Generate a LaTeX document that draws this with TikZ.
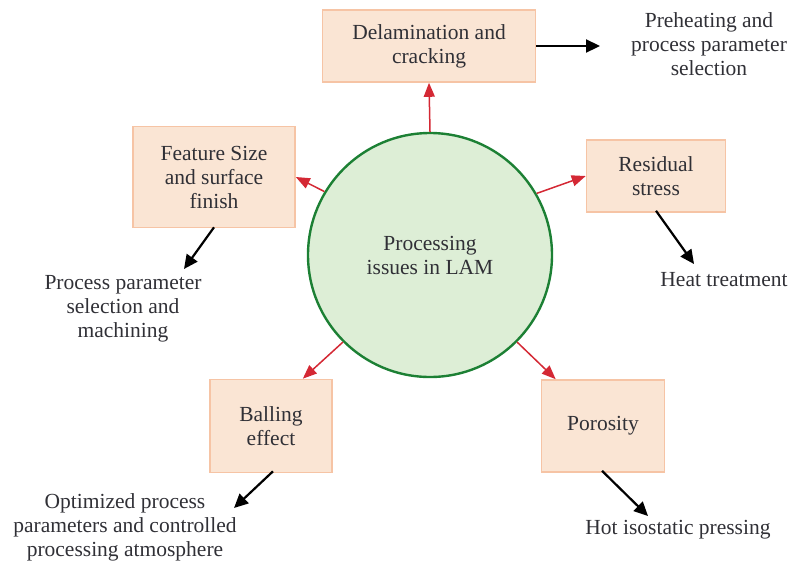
\documentclass[tikz,border=0pt]{standalone}
\usepackage{fontspec}
\setmainfont{Liberation Serif}
\usetikzlibrary{arrows.meta,calc}
\definecolor{boxfill}{RGB}{250,229,212}
\definecolor{boxline}{RGB}{246,196,165}
\definecolor{hubfill}{RGB}{221,238,214}
\definecolor{hubline}{RGB}{28,128,52}
\definecolor{issuered}{RGB}{212,40,52}
\definecolor{txt}{RGB}{48,48,54}
\begin{document}
\begin{tikzpicture}[x=1pt,y=-1pt,
  every node/.style={font=\fontsize{21.5}{24}\selectfont, text=txt, align=center},
  issue/.style={draw=boxline, line width=1.6pt, fill=boxfill, inner sep=0pt},
  remedy/.style={inner sep=1pt},
  toissue/.style={draw=issuered, line width=1.5pt, -{Triangle[length=14pt,width=11pt]}},
  toremedy/.style={draw=black, line width=2.2pt, -{Triangle[length=14pt,width=13pt]}}]
\useasboundingbox (0,0) rectangle (791,563);
% central topic
\node[circle, draw=hubline, line width=2.4pt, fill=hubfill, minimum size=244pt, inner sep=0pt] (hub) at (430,255) {Processing\\issues in LAM};
% processing issues
\node[issue, minimum width=213pt, minimum height=72pt] (del) at (429,46) {Delamination and\\cracking};
\node[issue, minimum width=139pt, minimum height=72pt] (res) at (656,176) {Residual\\stress};
\node[issue, minimum width=162pt, minimum height=101pt] (feat) at (214,177) {Feature Size\\and surface\\finish};
\node[issue, minimum width=122pt, minimum height=93pt] (ball) at (271,426) {Balling\\effect};
\node[issue, minimum width=123pt, minimum height=92pt] (por) at (603,426) {Porosity};
% remedies
\node[remedy] (preh) at (709,44) {Preheating and\\process parameter\\selection};
\node[remedy] (heat) at (724,280) {Heat treatment};
\node[remedy] (mach) at (123,309) {Process parameter\\selection and\\machining};
\node[remedy] (opt) at (125,527) {Optimized process\\parameters and controlled\\processing atmosphere};
\node[remedy] (hip) at (678,530) {Hot isostatic pressing};
% arrows from hub to issues
\draw[toissue] (hub.90) -- (del.south);
\draw[toissue] (hub.30) -- (res.west);
\draw[toissue] (hub.149) -- (feat.east);
\draw[toissue] (hub.-135) -- ($(ball.north east)+(-30,0)$);
\draw[toissue] (hub.-45) -- ($(por.north west)+(15,0)$);
% arrows from issues to remedies
\coordinate (preh-in) at (600,46);
\draw[toremedy] (del.east) -- (preh-in);
\coordinate (heat-in) at (694,264);
\draw[toremedy] ($(res.south)+(0,-2)$) -- (heat-in);
\coordinate (mach-in) at (184,269);
\draw[toremedy] ($(feat.south)+(0,-1)$) -- (mach-in);
\coordinate (opt-in) at (234,508);
\draw[toremedy] ($(ball.south)+(2,-2)$) -- (opt-in);
\coordinate (hip-in) at (648,516);
\draw[toremedy] ($(por.south)+(-1,-2)$) -- (hip-in);
\end{tikzpicture}
\end{document}
